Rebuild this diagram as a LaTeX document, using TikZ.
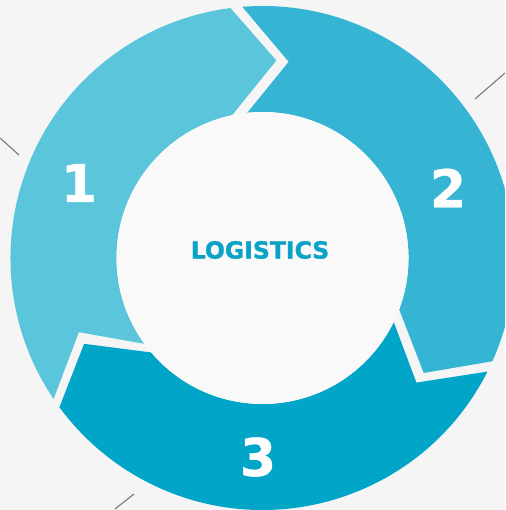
\documentclass[tikz,border=0pt]{standalone}
\usepackage{fontspec}
\setmainfont{DejaVu Sans}
\newfontfamily\heavyfont{DejaVu Sans}[BoldFeatures={FakeBold=1.3}]
\newfontfamily\numfont{DejaVu Sans}[BoldFeatures={FakeBold=0.8}]
\definecolor{bgc}{RGB}{245,245,245}
\definecolor{innerc}{RGB}{249,249,249}
\definecolor{segA}{RGB}{91,197,219}
\definecolor{segB}{RGB}{53,181,211}
\definecolor{segC}{RGB}{0,165,200}
\definecolor{txtc}{RGB}{10,163,198}
\definecolor{linec}{RGB}{128,128,128}
\tikzset{
  numlabel/.style={text=white, font=\numfont\fontsize{52}{52}\selectfont\bfseries, inner sep=0pt},
  titlelabel/.style={text=txtc, font=\heavyfont\fontsize{23.5}{23.5}\selectfont\bfseries, inner sep=0pt},
  deco/.style={draw=linec, line width=1.2pt}
}
\begin{document}
\begin{tikzpicture}[x=1pt,y=1pt]
\useasboundingbox (0,0) rectangle (505,510);
\clip (0,0) rectangle (505,510);
\fill[bgc] (0,0) rectangle (505,510);
\draw[deco] (475,411) -- (505,437);
\draw[deco] (0,372) -- (19,355);
\draw[deco] (115,1) -- (134,16);
\begin{scope}[shift={(262.5,252)}]
\def\R{252pt}
\def\r{146pt}
\def\m{198pt}
% segment 1
\fill[segA] (214:\R) arc[start angle=214,end angle=97.3,radius=\R]
  -- (86:\m) -- (102:\r) arc[start angle=102,end angle=216,radius=\r]
  -- (202:\m) -- cycle;
% segment 2
\fill[segB] (94.6:\R) arc[start angle=94.6,end angle=-24.2,radius=\R]
  -- (-35.5:\m) -- (-20.6:\r) arc[start angle=-20.6,end angle=96,radius=\r]
  -- (82.4:\m) -- cycle;
% segment 3
\fill[segC] (-26.8:\R) arc[start angle=-26.8,end angle=-143.7,radius=\R]
  -- (-154.3:\m) -- (-139.7:\r) arc[start angle=-139.7,end angle=-26,radius=\r]
  -- (-39:\m) -- cycle;
\fill[innerc] (0,0) circle[radius=\r];
\end{scope}
\node[titlelabel] (title) at (260,260) {LOGISTICS};
\node[numlabel] (n1) at (79,327) {1};
\node[numlabel] (n2) at (448,322) {2};
\node[numlabel] (n3) at (258,53) {3};
\end{tikzpicture}
\end{document}
